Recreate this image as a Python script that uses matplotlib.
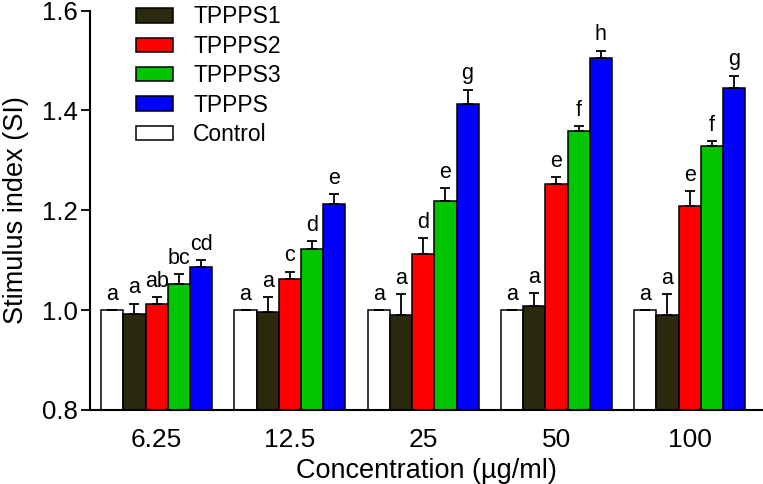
import matplotlib
matplotlib.use("Agg")
import matplotlib.pyplot as plt
import numpy as np

plt.rcParams['font.family'] = ['Liberation Sans', 'DejaVu Sans']

concentrations = ["6.25", "12.5", "25", "50", "100"]
series_names = ["Control", "TPPPS1", "TPPPS2", "TPPPS3", "TPPPS"]
colors = ["#ffffff", "#2b2a0e", "#ff0000", "#00c400", "#0000ff"]

control = [1.0, 1.0, 1.0, 1.0, 1.0]
tppps1 = [0.992, 0.996, 0.990, 1.009, 0.990]
tppps2 = [1.012, 1.062, 1.112, 1.252, 1.208]
tppps3 = [1.052, 1.122, 1.218, 1.358, 1.329]
tppps = [1.086, 1.212, 1.412, 1.506, 1.446]

control_err = [0.0, 0.0, 0.0, 0.0, 0.0]
tppps1_err = [0.021, 0.030, 0.042, 0.025, 0.042]
tppps2_err = [0.014, 0.015, 0.032, 0.014, 0.030]
tppps3_err = [0.020, 0.016, 0.026, 0.010, 0.009]
tppps_err = [0.014, 0.020, 0.030, 0.014, 0.024]

control_lab = ["a", "a", "a", "a", "a"]
tppps1_lab = ["a", "a", "a", "a", "a"]
tppps2_lab = ["ab", "c", "d", "e", "e"]
tppps3_lab = ["bc", "d", "e", "f", "f"]
tppps_lab = ["cd", "e", "g", "h", "g"]

values = [control, tppps1, tppps2, tppps3, tppps]
errors = [control_err, tppps1_err, tppps2_err, tppps3_err, tppps_err]
labels = [control_lab, tppps1_lab, tppps2_lab, tppps3_lab, tppps_lab]

fig = plt.figure(figsize=(7.63, 4.84), dpi=100)
ax = fig.add_axes([0.118, 0.153, 0.882, 0.825])

x = np.arange(len(concentrations))
w = 1.0 / 6
handles = {}
for j, (name, col, vals, errs, labs) in enumerate(zip(series_names, colors, values, errors, labels)):
    pos = x + (j - 2) * w
    bars = ax.bar(pos, np.array(vals) - 0.8, bottom=0.8, width=w, color=col,
                  edgecolor="black", linewidth=1.1, zorder=2)
    handles[name] = bars
    ax.errorbar(pos, vals, yerr=[np.zeros(len(vals)), errs], fmt="none",
                ecolor="black", elinewidth=1.3, capsize=3.6, capthick=1.3, zorder=3)
    for p, v, e, t in zip(pos, vals, errs, labs):
        ax.annotate(t, (p, v + e), xytext=(0, 4), textcoords="offset points",
                    ha="center", va="bottom", fontsize=15.5)

ax.set_xlim(-0.5, 4.55)
ax.set_ylim(0.8, 1.6)
ax.set_yticks([0.8, 1.0, 1.2, 1.4, 1.6])
ax.set_yticklabels(["0.8", "1.0", "1.2", "1.4", "1.6"])
ax.set_xticks(x)
ax.set_xticklabels(concentrations)
ax.tick_params(axis="x", length=0, pad=13, labelsize=19)
ax.tick_params(axis="y", length=6.5, width=1.3, labelsize=18.5, pad=2)
for s in ["top", "right"]:
    ax.spines[s].set_visible(False)
for s in ["left", "bottom"]:
    ax.spines[s].set_linewidth(1.5)
ax.set_ylabel("Stimulus index (SI)", fontsize=19.5, labelpad=9.5)
ax.set_xlabel("Concentration (µg/ml)", fontsize=19.5, labelpad=4)

order = ["TPPPS1", "TPPPS2", "TPPPS3", "TPPPS", "Control"]
leg = ax.legend([handles[n] for n in order], order, loc="upper left",
                bbox_to_anchor=(0.0684, 1.013), frameon=False, fontsize=16.5,
                borderpad=0, borderaxespad=0,
                handlelength=1.62, handleheight=0.6, labelspacing=0.28, handletextpad=0.87)

fig.savefig("out.png", dpi=100)
